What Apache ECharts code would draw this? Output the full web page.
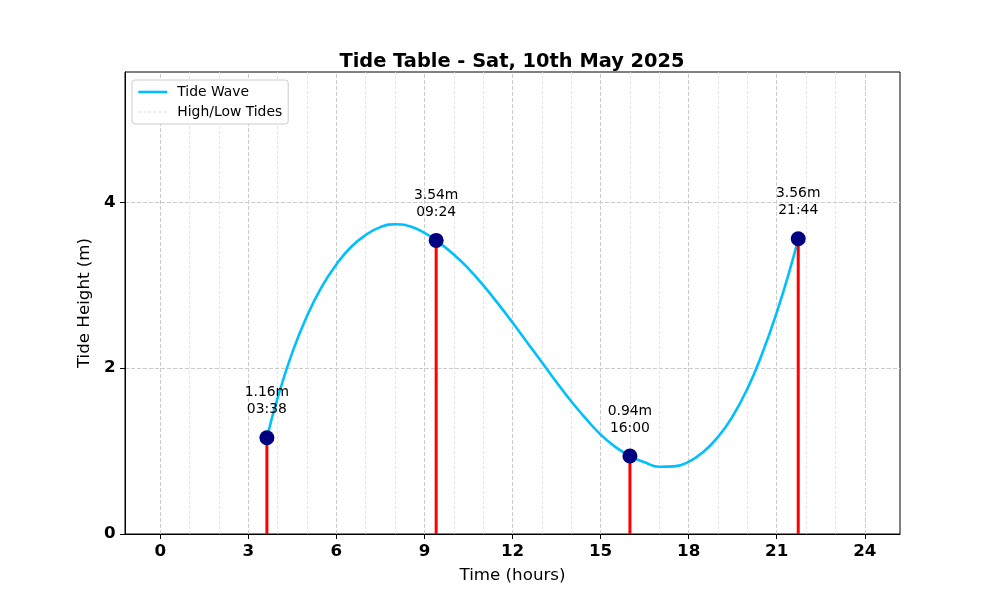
<!DOCTYPE html>
<html><head><meta charset="utf-8">
<script src="https://cdn.jsdelivr.net/npm/echarts@6/dist/echarts.min.js"></script>
<style>html,body{margin:0;padding:0;background:#fff}#c{width:1000px;height:600px}</style>
</head><body><div id="c"></div>
<script>
const tideTimes = ['03:38', '09:24', '16:00', '21:44'];
const tideHeights = [1.16, 3.54, 0.94, 3.56];
const curveHours = [3.633, 4.0, 4.5, 5, 5.5, 6, 6.5, 7, 7.5, 8, 8.5, 9, 9.4, 10, 10.5, 11, 11.5, 12, 12.5, 13, 13.5, 14, 14.5, 15, 15.5, 16, 16.5, 17, 17.5, 18, 18.5, 19, 19.5, 20, 20.5, 21, 21.5, 21.733];
const curveHeights = [1.16, 1.64, 2.19, 2.63, 2.98, 3.25, 3.46, 3.605, 3.70, 3.735, 3.71, 3.63, 3.54, 3.37, 3.20, 3.00, 2.78, 2.55, 2.31, 2.07, 1.83, 1.60, 1.39, 1.20, 1.05, 0.94, 0.865, 0.81, 0.815, 0.87, 0.99, 1.17, 1.42, 1.75, 2.17, 2.67, 3.25, 3.56];
const xTicks = [0, 3, 6, 9, 12, 15, 18, 21, 24];
const xMinorGrid = [1, 2, 4, 5, 7, 8, 10, 11, 13, 14, 16, 17, 19, 20, 22, 23];
const yTicks = [0, 2, 4];
const yGrid = [2, 4];

const FONT = 'DejaVu Sans';
const tideHours = tideTimes.map(t => { const [h, m] = t.split(':').map(Number); return h + m / 60; });
const tidePoints = tideHours.map((h, i) => [h, tideHeights[i]]);
const curve = curveHours.map((h, i) => [h, curveHeights[i]]);

const majorStyle = { color: '#cccccc', width: 1, type: [4, 2] };
const minorStyle = { color: '#e0e0e0', width: 0.8, type: [3, 2] };
const gridLines = [];
xTicks.forEach(v => gridLines.push({ xAxis: v, lineStyle: majorStyle }));
xMinorGrid.forEach(v => gridLines.push({ xAxis: v, lineStyle: minorStyle }));
yGrid.forEach(v => gridLines.push({ yAxis: v, lineStyle: majorStyle }));

const chart = echarts.init(document.getElementById('c'));
chart.setOption({
  animation: false,
  backgroundColor: '#fff',
  textStyle: { fontFamily: FONT },
  title: {
    text: 'Tide Table - Sat, 10th May 2025',
    left: 507, top: 47, textAlign: 'center',
    textStyle: { fontFamily: FONT, fontSize: 19.4, fontWeight: 'bold', color: '#000' }
  },
  legend: {
    left: 132, top: 80, orient: 'vertical', z: 10,
    backgroundColor: '#fff', borderColor: '#cccccc', borderWidth: 1, borderRadius: 3,
    padding: [5, 6, 5, 5], itemGap: 6, itemWidth: 29, itemHeight: 14,
    itemStyle: { opacity: 0 },
    textStyle: { fontFamily: FONT, fontSize: 13.9, color: '#000', padding: [0, 0, 0, 5] },
    data: [
      { name: 'Tide Wave', lineStyle: { width: 2.6 } },
      { name: 'High/Low Tides', lineStyle: { width: 1 } }
    ]
  },
  grid: { left: 125, right: 100, top: 72, bottom: 66, show: true, borderColor: '#000', borderWidth: 1 },
  xAxis: {
    type: 'value', min: -1.2, max: 25.2,
    name: 'Time (hours)', nameLocation: 'middle', nameGap: 33,
    nameTextStyle: { fontFamily: FONT, fontSize: 16.7, color: '#000' },
    axisLine: { show: true, onZero: false, lineStyle: { color: '#000', width: 1 } },
    axisTick: { show: true, customValues: xTicks, length: 5, lineStyle: { color: '#000' } },
    axisLabel: { customValues: xTicks, fontFamily: FONT, fontSize: 16.7, fontWeight: 'bold', color: '#000', margin: 9 },
    splitLine: { show: false }
  },
  yAxis: {
    type: 'value', min: 0, max: 5.57,
    name: 'Tide Height (m)', nameLocation: 'middle', nameGap: 25.5,
    nameTextStyle: { fontFamily: FONT, fontSize: 16.7, color: '#000' },
    axisLine: { show: true, onZero: false, lineStyle: { color: '#000', width: 1 } },
    axisTick: { show: true, customValues: yTicks, length: 5, lineStyle: { color: '#000' } },
    axisLabel: { customValues: yTicks, fontFamily: FONT, fontSize: 16.7, fontWeight: 'bold', color: '#000', margin: 9.5 },
    splitLine: { show: false }
  },
  series: [
    {
      name: 'grid', type: 'line', data: [], silent: true, z: 0,
      markLine: { z: 0, silent: true, symbol: 'none', label: { show: false }, animation: false, data: gridLines }
    },
    {
      name: 'Tide Wave', type: 'line', data: curve, smooth: 0.5, symbol: 'none', z: 2,
      lineStyle: { color: '#00BFFF', width: 2.6 }, itemStyle: { color: '#00BFFF' }
    },
    {
      name: 'High/Low Tides', type: 'line', data: [], symbol: 'none', z: 1,
      lineStyle: { color: '#dddddd', width: 1, type: [3, 2] }, itemStyle: { color: '#dddddd' }
    },
    {
      name: 'stems', type: 'bar', data: tidePoints, barWidth: 3, z: 3,
      itemStyle: { color: '#ff0000' }
    },
    {
      name: 'points', type: 'scatter', data: tidePoints, symbol: 'circle', symbolSize: 15, z: 4,
      itemStyle: { color: '#000080', opacity: 1 },
      label: {
        show: true, position: 'top', distance: 12,
        formatter: p => tideHeights[p.dataIndex].toFixed(2) + 'm\n' + tideTimes[p.dataIndex],
        fontFamily: FONT, fontSize: 13.9, lineHeight: 17, color: '#000', align: 'center'
      }
    }
  ]
});
</script></body></html>
